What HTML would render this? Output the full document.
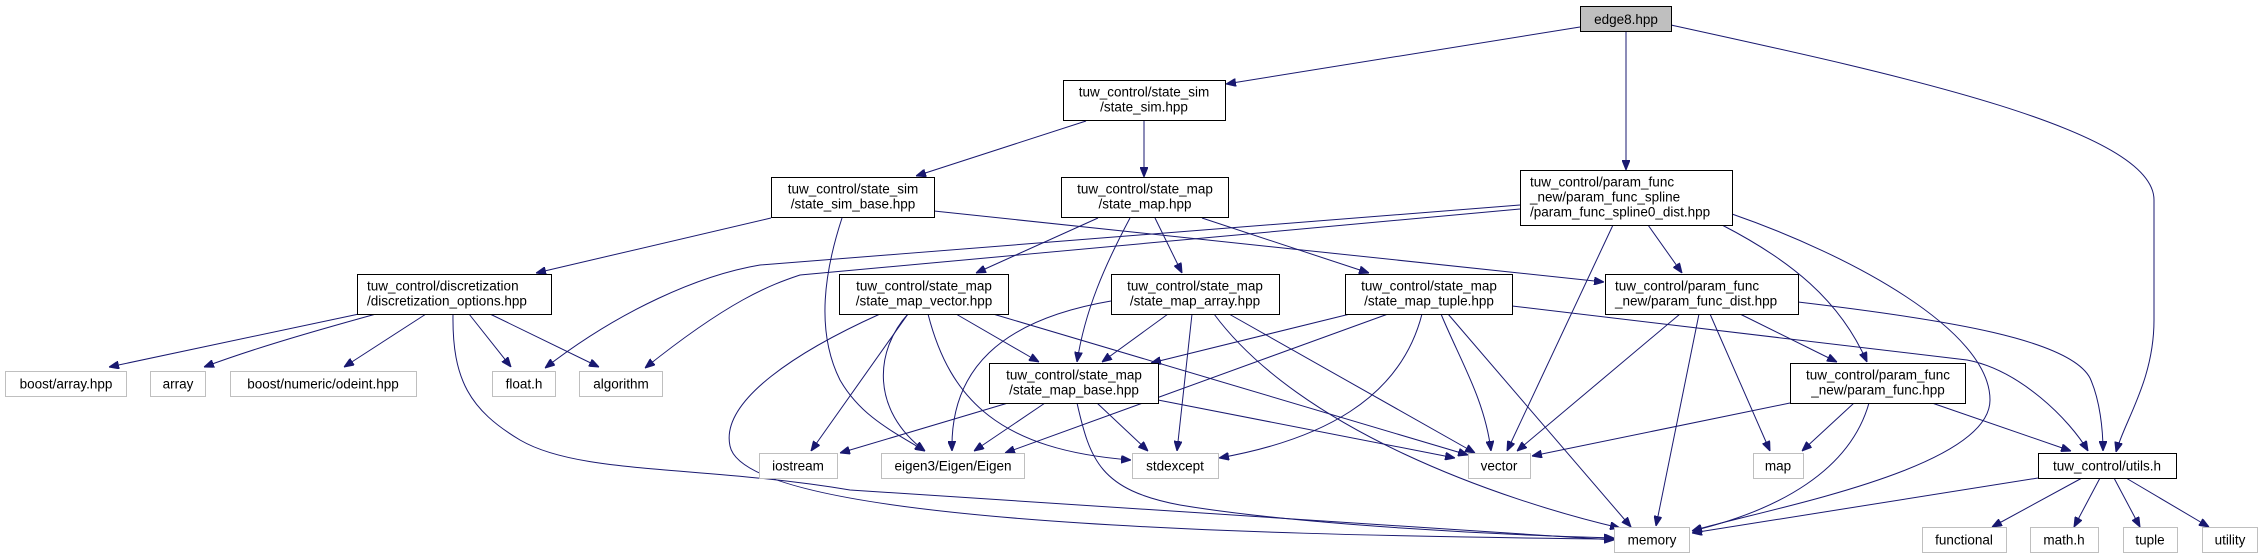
<!DOCTYPE html>
<html><head><meta charset="utf-8"><style>
html,body{margin:0;padding:0;background:#fff;}
svg{display:block;}
text{font-family:"Liberation Sans",sans-serif;font-size:13.5px;fill:#000;}
.n{fill:#fff;stroke:#000;stroke-width:1;}
.g{fill:#fff;stroke:#bfbfbf;stroke-width:1;}
.e{fill:none;stroke:#191970;stroke-width:1;marker-end:url(#a);}
</style></head><body>
<svg width="2263" height="559" viewBox="0 0 2263 559" xmlns="http://www.w3.org/2000/svg">
<defs><marker id="a" viewBox="0 0 10 8" refX="10" refY="4" markerWidth="10" markerHeight="8" markerUnits="userSpaceOnUse" orient="auto"><path d="M0,0 L10,4 L0,8 z" fill="#191970" stroke="#191970"/></marker></defs>
<path class="e" d="M1580,27 L1226,84"/>
<path class="e" d="M1626,31 L1626,170"/>
<path class="e" d="M1671,25 C1900,75 2154,130 2154,200 L2154,320 C2154,380 2125,420 2116,452"/>
<path class="e" d="M1086,121 L916,176"/>
<path class="e" d="M1144,120 L1144,177"/>
<path class="e" d="M771,218 L536,273"/>
<path class="e" d="M842,218 C825,270 815,330 840,380 C860,415 890,430 925,451"/>
<path class="e" d="M934,211 L1604,282"/>
<path class="e" d="M1098,218 L976,273"/>
<path class="e" d="M1130,218 C1105,265 1085,310 1077,362"/>
<path class="e" d="M1155,218 L1182,273"/>
<path class="e" d="M1202,218 L1369,273"/>
<path class="e" d="M1520,205 L760,265 C700,275 620,310 545,368"/>
<path class="e" d="M1520,209 L800,275 C770,285 730,300 645,368"/>
<path class="e" d="M1613,225 L1507,451"/>
<path class="e" d="M1648,225 L1682,273"/>
<path class="e" d="M1722,225 C1790,260 1840,300 1867,362"/>
<path class="e" d="M1732,214 C1850,255 1990,330 1990,400 C1990,470 1760,510 1692,531"/>
<path class="e" d="M359,314 L109,367"/>
<path class="e" d="M376,314 C300,335 250,350 204,367"/>
<path class="e" d="M426,314 L344,367"/>
<path class="e" d="M469,314 L511,367"/>
<path class="e" d="M490,314 L599,367"/>
<path class="e" d="M453,314 C452,380 470,410 520,440 C580,475 700,465 850,490 L1614,540"/>
<path class="e" d="M956,314 L1039,362"/>
<path class="e" d="M908,314 L811,451"/>
<path class="e" d="M908,314 C875,350 870,410 925,451"/>
<path class="e" d="M928,314 C950,400 1000,450 1131,460"/>
<path class="e" d="M993,314 L1468,455"/>
<path class="e" d="M880,314 C800,350 720,400 730,446 C745,520 1200,535 1614,539"/>
<path class="e" d="M1111,301 C1000,320 950,370 952,451"/>
<path class="e" d="M1168,314 L1102,362"/>
<path class="e" d="M1192,314 L1177,451"/>
<path class="e" d="M1214,314 C1300,430 1500,500 1620,528"/>
<path class="e" d="M1229,314 L1475,453"/>
<path class="e" d="M1350,314 L1151,363"/>
<path class="e" d="M1388,314 L1005,453"/>
<path class="e" d="M1422,314 C1400,400 1320,440 1219,458"/>
<path class="e" d="M1441,314 C1460,360 1485,400 1491,451"/>
<path class="e" d="M1448,314 L1631,527"/>
<path class="e" d="M1512,306 L1967,360 C2020,370 2070,420 2088,451"/>
<path class="e" d="M1008,403 L840,453"/>
<path class="e" d="M1045,403 L974,451"/>
<path class="e" d="M1097,403 L1148,451"/>
<path class="e" d="M1158,400 L1455,458"/>
<path class="e" d="M1077,403 C1090,460 1100,490 1180,505 C1300,525 1500,535 1614,538"/>
<path class="e" d="M1680,314 L1517,451"/>
<path class="e" d="M1699,314 L1656,526"/>
<path class="e" d="M1710,314 L1770,451"/>
<path class="e" d="M1740,314 L1837,362"/>
<path class="e" d="M1798,302 C1950,320 2070,340 2090,378 C2100,400 2103,430 2103,451"/>
<path class="e" d="M1790,403 L1532,456"/>
<path class="e" d="M1854,403 L1802,451"/>
<path class="e" d="M1869,403 C1850,470 1780,510 1692,531"/>
<path class="e" d="M1932,403 L2071,451"/>
<path class="e" d="M2038,478 L1692,533"/>
<path class="e" d="M2082,478 L1992,527"/>
<path class="e" d="M2100,478 L2074,527"/>
<path class="e" d="M2114,478 L2140,527"/>
<path class="e" d="M2126,478 L2209,527"/>
<rect x="1580.5" y="6.5" width="91" height="25" fill="#bfbfbf" stroke="#000"/><text x="1626" y="24" text-anchor="middle">edge8.hpp</text>
<rect class="n" x="1063.5" y="80.5" width="162" height="40"/><text x="1144" y="96.5" text-anchor="middle">tuw_control/state_sim</text><text x="1144" y="111.5" text-anchor="middle">/state_sim.hpp</text>
<rect class="n" x="771.5" y="177.5" width="163" height="40"/><text x="853" y="193.5" text-anchor="middle">tuw_control/state_sim</text><text x="853" y="208.5" text-anchor="middle">/state_sim_base.hpp</text>
<rect class="n" x="1061.5" y="177.5" width="167" height="40"/><text x="1145" y="193.5" text-anchor="middle">tuw_control/state_map</text><text x="1145" y="208.5" text-anchor="middle">/state_map.hpp</text>
<rect class="n" x="1520.5" y="170.5" width="212" height="55"/><text x="1530" y="186.5">tuw_control/param_func</text><text x="1530" y="201.5">_new/param_func_spline</text><text x="1530" y="216.5">/param_func_spline0_dist.hpp</text>
<rect class="n" x="357.5" y="274.5" width="194" height="40"/><text x="367" y="290.5">tuw_control/discretization</text><text x="367" y="305.5">/discretization_options.hpp</text>
<rect class="n" x="839.5" y="274.5" width="169" height="40"/><text x="924" y="290.5" text-anchor="middle">tuw_control/state_map</text><text x="924" y="305.5" text-anchor="middle">/state_map_vector.hpp</text>
<rect class="n" x="1111.5" y="274.5" width="168" height="40"/><text x="1195" y="290.5" text-anchor="middle">tuw_control/state_map</text><text x="1195" y="305.5" text-anchor="middle">/state_map_array.hpp</text>
<rect class="n" x="1345.5" y="274.5" width="167" height="40"/><text x="1429" y="290.5" text-anchor="middle">tuw_control/state_map</text><text x="1429" y="305.5" text-anchor="middle">/state_map_tuple.hpp</text>
<rect class="n" x="1605.5" y="274.5" width="193" height="40"/><text x="1615" y="290.5">tuw_control/param_func</text><text x="1615" y="305.5">_new/param_func_dist.hpp</text>
<rect class="n" x="989.5" y="363.5" width="169" height="40"/><text x="1074" y="379.5" text-anchor="middle">tuw_control/state_map</text><text x="1074" y="394.5" text-anchor="middle">/state_map_base.hpp</text>
<rect class="n" x="1790.5" y="363.5" width="175" height="40"/><text x="1878" y="379.5" text-anchor="middle">tuw_control/param_func</text><text x="1878" y="394.5" text-anchor="middle">_new/param_func.hpp</text>
<rect class="n" x="2038.5" y="453.5" width="138" height="25"/><text x="2107" y="470.5" text-anchor="middle">tuw_control/utils.h</text>
<rect class="g" x="5.5" y="371.5" width="121" height="25"/><text x="66" y="388.5" text-anchor="middle">boost/array.hpp</text>
<rect class="g" x="150.5" y="371.5" width="55" height="25"/><text x="178" y="388.5" text-anchor="middle">array</text>
<rect class="g" x="230.5" y="371.5" width="186" height="25"/><text x="323" y="388.5" text-anchor="middle">boost/numeric/odeint.hpp</text>
<rect class="g" x="492.5" y="371.5" width="63" height="25"/><text x="524" y="388.5" text-anchor="middle">float.h</text>
<rect class="g" x="579.5" y="371.5" width="83" height="25"/><text x="621" y="388.5" text-anchor="middle">algorithm</text>
<rect class="g" x="759.5" y="453.5" width="78" height="25"/><text x="798" y="470.5" text-anchor="middle">iostream</text>
<rect class="g" x="881.5" y="453.5" width="143" height="25"/><text x="953" y="470.5" text-anchor="middle">eigen3/Eigen/Eigen</text>
<rect class="g" x="1132.5" y="453.5" width="86" height="25"/><text x="1175" y="470.5" text-anchor="middle">stdexcept</text>
<rect class="g" x="1468.5" y="453.5" width="62" height="25"/><text x="1499" y="470.5" text-anchor="middle">vector</text>
<rect class="g" x="1753.5" y="453.5" width="50" height="25"/><text x="1778" y="470.5" text-anchor="middle">map</text>
<rect class="g" x="1614.5" y="527.5" width="75" height="25"/><text x="1652" y="544.5" text-anchor="middle">memory</text>
<rect class="g" x="1922.5" y="527.5" width="84" height="25"/><text x="1964" y="544.5" text-anchor="middle">functional</text>
<rect class="g" x="2030.5" y="527.5" width="68" height="25"/><text x="2064" y="544.5" text-anchor="middle">math.h</text>
<rect class="g" x="2123.5" y="527.5" width="54" height="25"/><text x="2150" y="544.5" text-anchor="middle">tuple</text>
<rect class="g" x="2202.5" y="527.5" width="55" height="25"/><text x="2230" y="544.5" text-anchor="middle">utility</text>
</svg>
</body></html>
